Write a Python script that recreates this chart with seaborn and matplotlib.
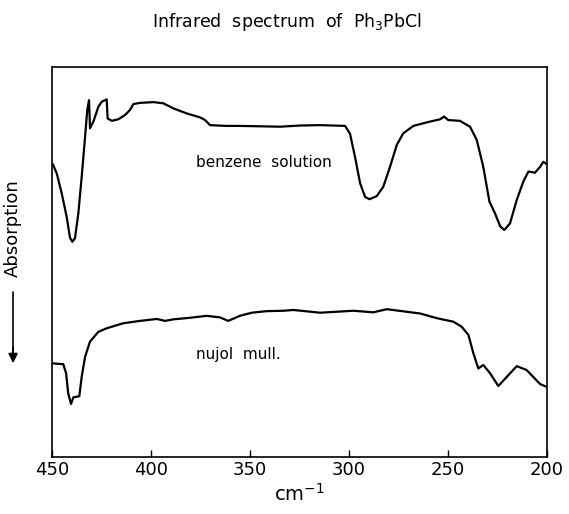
import numpy as np
import pandas as pd
import seaborn as sns
import matplotlib.pyplot as plt

# wavenumber (cm-1) and relative absorption
benz_wn = [449.6, 447.6, 445.1, 442.6, 440.9, 439.7, 438.4, 436.7, 435.0, 433.3,
           432.2, 431.3, 430.8, 429.1, 426.6, 424.9, 422.4, 421.9, 419.8, 416.5,
           413.1, 410.6, 408.9, 405.6, 398.8, 393.8, 388.7, 382.0, 375.3, 372.7,
           370.2, 361.8, 355.1, 334.8, 324.7, 314.6, 302.0, 299.5, 297.0, 294.4,
           291.9, 289.7, 286.0, 282.7, 279.3, 275.9, 272.6, 267.5, 260.8, 254.0,
           252.0, 249.9, 244.0, 238.9, 235.5, 232.2, 229.1, 226.3, 223.7, 221.6,
           218.7, 215.3, 212.0, 209.4, 206.1, 203.5, 201.9, 200.2]
benz_abs = [75.1, 72.7, 67.6, 61.6, 56.2, 55.2, 56.1, 62.5, 71.9, 82.1,
            89.0, 91.5, 84.3, 86.0, 89.8, 91.1, 91.7, 86.8, 86.2, 86.6,
            87.7, 89.0, 90.5, 90.8, 91.0, 90.7, 89.4, 88.1, 87.1, 86.4,
            85.1, 84.9, 84.9, 84.7, 85.0, 85.1, 84.9, 82.9, 77.0, 70.2,
            66.7, 66.1, 66.9, 69.3, 74.4, 80.0, 83.0, 84.9, 85.8, 86.6,
            87.3, 86.4, 86.2, 84.7, 81.3, 74.4, 65.5, 62.5, 59.2, 58.2,
            59.9, 65.9, 70.6, 73.2, 72.9, 74.4, 75.7, 75.1]

nujol_wn = [449.6, 444.3, 442.9, 441.8, 440.4, 439.2, 436.2, 435.0, 433.3, 430.8,
            426.6, 422.4, 414.0, 405.6, 397.1, 392.9, 388.7, 380.3, 371.9, 365.2,
            361.0, 355.1, 349.1, 341.6, 333.2, 328.1, 314.6, 297.8, 287.7, 280.9,
            264.1, 255.7, 247.3, 243.1, 239.7, 237.2, 234.7, 232.2, 228.8, 224.6,
            219.5, 215.3, 210.3, 203.5, 200.2]
nujol_abs = [24.0, 23.8, 21.5, 16.3, 13.6, 15.3, 15.6, 20.6, 25.7, 29.6,
             32.1, 33.0, 34.3, 34.9, 35.4, 34.9, 35.3, 35.7, 36.2, 35.8,
             34.9, 36.2, 37.0, 37.4, 37.5, 37.7, 37.0, 37.5, 37.1, 37.9,
             36.8, 35.6, 34.7, 33.4, 31.3, 26.6, 22.7, 23.6, 21.5, 18.2,
             21.0, 23.3, 22.3, 18.7, 18.0]

xticks = [450, 400, 350, 300, 250, 200]

sns.set_style("white")
plt.rcParams['font.family'] = ['DejaVu Sans']
plt.rcParams['text.color'] = 'black'
plt.rcParams['axes.labelcolor'] = 'black'
plt.rcParams['xtick.color'] = 'black'

benz = pd.DataFrame({"wn": benz_wn, "a": benz_abs})
nujol = pd.DataFrame({"wn": nujol_wn, "a": nujol_abs})

fig = plt.figure(figsize=(5.69, 5.14), dpi=100)
ax = fig.add_axes([0.0914, 0.1109, 0.870, 0.7587])

sns.lineplot(data=benz, x="wn", y="a", sort=False, color="black", lw=1.6, ax=ax)
sns.lineplot(data=nujol, x="wn", y="a", sort=False, color="black", lw=1.6, ax=ax)

ax.set_xlim(450, 200)
ax.set_ylim(0, 100)
ax.set_xticks(xticks)
ax.set_xticklabels([str(t) for t in xticks], fontsize=13)
ax.set_yticks([])
ax.tick_params(axis="x", direction="in", length=5, width=1, pad=3, bottom=True,
               colors="black")
for s in ax.spines.values():
    s.set_color("black")
    s.set_linewidth(1.2)
ax.set_xlabel("cm$^{-1}$", fontsize=14, labelpad=3, color="black")
ax.set_ylabel("")

ax.text(377.5, 75.4, "benzene  solution", fontsize=11, va="center", ha="left",
        color="black")
ax.text(377.5, 26.2, "nujol  mull.", fontsize=11, va="center", ha="left",
        color="black")

fig.text(0.505, 0.957, "Infrared  spectrum  of  Ph$_3$PbCl", fontsize=12.5,
         ha="center", va="center", color="black")
fig.text(0.023, 0.556, "Absorption", fontsize=13, rotation=90,
         ha="center", va="center", color="black")
fig.add_artist(plt.Line2D([0.023, 0.023], [0.432, 0.30], color="black", lw=1.2))
ax.annotate("", xy=(0.023, 0.288), xytext=(0.023, 0.33), xycoords="figure fraction",
            arrowprops=dict(arrowstyle="-|>", color="black", lw=1.2, mutation_scale=14))

fig.savefig("out.png", dpi=100)
